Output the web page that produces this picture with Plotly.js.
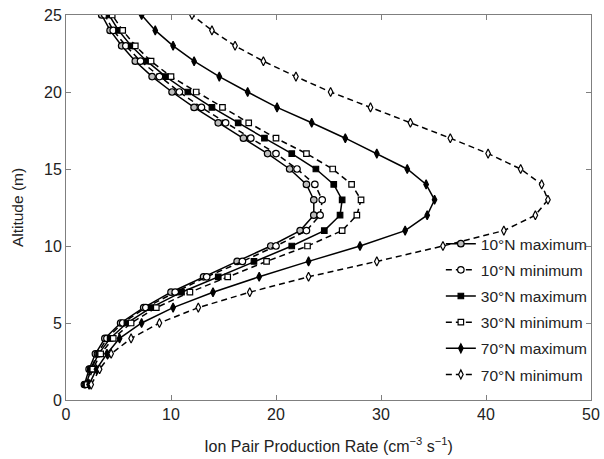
<!DOCTYPE html>
<html>
<head>
<meta charset="utf-8">
<script src="https://cdn.plot.ly/plotly-3.0.1.min.js"></script>
<style>
  html, body { margin: 0; padding: 0; background: #fff; }
  #chart { width: 604px; height: 459px; }
</style>
</head>
<body>
<div id="chart"></div>
<script>
// Altitude levels (1 to 25)
const altitude = [1, 2, 3, 4, 5, 6, 7, 8, 9, 10, 11, 12, 13, 14, 15, 16, 17, 18, 19, 20, 21, 22, 23, 24, 25];

// Ion pair production rate profiles, one value per altitude level
const rate10NMax = [1.75, 2.2, 2.8, 3.7, 5.2, 7.4, 10.0, 13.1, 16.3, 19.5, 22.3, 23.6, 23.6, 22.9, 21.3, 19.2, 16.9, 14.5, 12.2, 10.1, 8.2, 6.6, 5.3, 4.2, 3.4];
const rate10NMin = [1.85, 2.35, 3.0, 3.9, 5.4, 7.6, 10.4, 13.4, 16.8, 20.0, 22.9, 24.2, 24.4, 23.7, 22.0, 20.0, 17.6, 15.2, 12.9, 10.8, 8.9, 7.1, 5.7, 4.5, 3.7];
const rate30NMax = [1.9, 2.4, 3.1, 4.2, 5.8, 8.1, 11.0, 14.5, 17.9, 21.5, 24.6, 26.1, 26.3, 25.5, 23.8, 21.5, 18.9, 16.4, 13.9, 11.6, 9.5, 7.7, 6.2, 5.0, 4.1];
const rate30NMin = [2.0, 2.55, 3.3, 4.5, 6.2, 8.6, 11.8, 15.4, 19.1, 23.0, 26.3, 27.7, 28.1, 27.2, 25.4, 22.9, 20.0, 17.4, 14.9, 12.4, 10.0, 8.1, 6.6, 5.4, 4.4];
const rate70NMax = [2.2, 2.9, 3.9, 5.1, 7.2, 10.2, 14.0, 18.4, 23.1, 28.0, 32.3, 34.4, 35.1, 34.3, 32.5, 29.6, 26.6, 23.4, 20.1, 17.3, 14.6, 12.2, 10.2, 8.5, 7.2];
const rate70NMin = [2.4, 3.2, 4.3, 6.2, 8.9, 12.6, 17.5, 23.1, 29.6, 35.9, 41.7, 44.7, 45.9, 45.3, 43.3, 40.2, 36.6, 32.8, 29.0, 25.2, 21.9, 18.8, 16.1, 13.9, 12.0];

const seriesNames = ['10°N maximum', '10°N minimum', '30°N maximum', '30°N minimum', '70°N maximum', '70°N minimum'];

const DASH = '6px,4px';

function profile(x, name, dash, symbol, fill, size) {
  return {
    type: 'scatter',
    mode: 'lines+markers',
    x: x,
    y: altitude,
    name: name,
    legendgroup: name,
    line: { color: '#000', width: 1.5, dash: dash },
    marker: { symbol: symbol, size: size, color: fill, line: { color: '#000', width: 1.2 } }
  };
}

const traces = [
  profile(rate10NMax, seriesNames[0], 'solid', 'circle', '#bdbdbd', 6.5),
  profile(rate10NMin, seriesNames[1], DASH, 'circle', '#ffffff', 6.5),
  profile(rate30NMax, seriesNames[2], 'solid', 'square', '#000000', 5.5),
  profile(rate30NMin, seriesNames[3], DASH, 'square', '#ffffff', 5.5),
  profile(rate70NMax, seriesNames[4], 'solid', 'diamond-tall', '#000000', 6.5),
  profile(rate70NMin, seriesNames[5], DASH, 'diamond-tall', '#ffffff', 6.5)
];

const FONT = 'Liberation Sans, Arial, sans-serif';

const axisCommon = {
  showgrid: false,
  zeroline: false,
  showline: true,
  linecolor: '#7f7f7f',
  linewidth: 1,
  mirror: 'ticks',
  ticks: 'inside',
  ticklen: 5,
  tickcolor: '#7f7f7f',
  tickfont: { family: FONT, size: 16, color: '#222' }
};

const layout = {
  width: 604,
  height: 459,
  margin: { l: 66, r: 11, t: 15, b: 59 },
  paper_bgcolor: '#fff',
  plot_bgcolor: '#fff',
  font: { family: FONT, color: '#222' },
  showlegend: true,
  legend: {
    x: 0.714, y: 0.449, xanchor: 'left', yanchor: 'top',
    bgcolor: 'rgba(255,255,255,0)',
    font: { size: 15.5, color: '#222' },
    tracegroupgap: 3
  },
  xaxis: Object.assign({}, axisCommon, {
    range: [0, 50],
    tickvals: [0, 10, 20, 30, 40, 50],
    title: { text: 'Ion Pair Production Rate (cm<sup>−3</sup> s<sup>−1</sup>)', font: { size: 16, color: '#222' }, standoff: 18 }
  }),
  yaxis: Object.assign({}, axisCommon, {
    range: [0, 25],
    tickvals: [0, 5, 10, 15, 20, 25],
    title: { text: 'Altitude (m)', font: { size: 15.5, color: '#222' }, standoff: 16 }
  })
};

Plotly.newPlot('chart', traces, layout, { displayModeBar: false, staticPlot: true });
</script>
</body>
</html>
